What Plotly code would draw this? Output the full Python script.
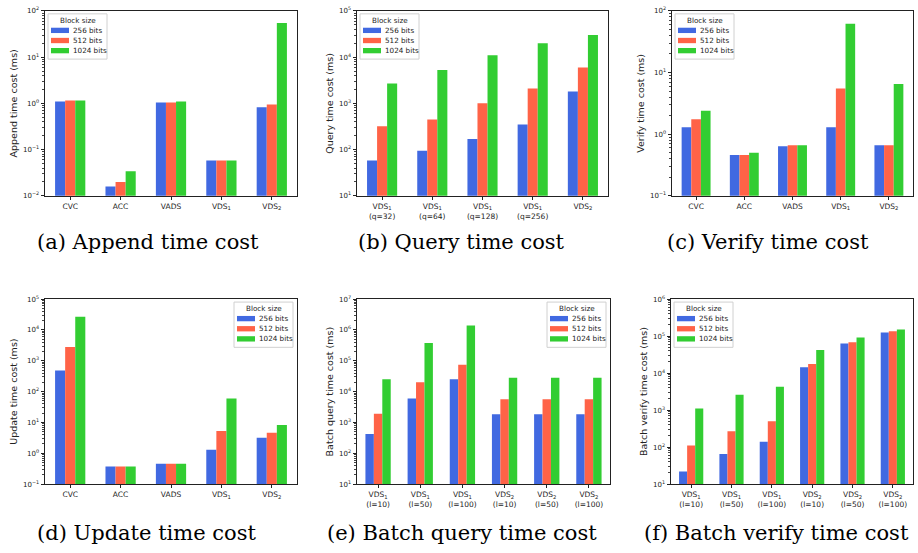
import plotly.graph_objects as go

# ---------------- data ----------------
series_names = ["256 bits", "512 bits", "1024 bits"]
series_colors = ["#4169E1", "#FF6347", "#32CD32"]
legend_title = "Block size"

append_categories = ["CVC", "ACC", "VADS", "VDS<sub>1</sub>", "VDS<sub>2</sub>"]
append_256 = [1.1, 0.016, 1.05, 0.058, 0.82]
append_512 = [1.15, 0.020, 1.05, 0.058, 0.95]
append_1024 = [1.15, 0.034, 1.10, 0.058, 55]

query_categories = ["VDS<sub>1</sub><br>(q=32)", "VDS<sub>1</sub><br>(q=64)",
                    "VDS<sub>1</sub><br>(q=128)", "VDS<sub>1</sub><br>(q=256)",
                    "VDS<sub>2</sub>"]
query_256 = [58, 95, 170, 350, 1800]
query_512 = [320, 450, 1000, 2100, 6000]
query_1024 = [2700, 5300, 11000, 20000, 30000]

verify_categories = ["CVC", "ACC", "VADS", "VDS<sub>1</sub>", "VDS<sub>2</sub>"]
verify_256 = [1.3, 0.46, 0.64, 1.3, 0.66]
verify_512 = [1.75, 0.46, 0.66, 5.5, 0.66]
verify_1024 = [2.4, 0.50, 0.66, 62, 6.5]

update_categories = ["CVC", "ACC", "VADS", "VDS<sub>1</sub>", "VDS<sub>2</sub>"]
update_256 = [480, 0.37, 0.46, 1.3, 3.2]
update_512 = [2800, 0.37, 0.46, 5.3, 4.6]
update_1024 = [27000, 0.37, 0.46, 60, 8.2]

bquery_categories = ["VDS<sub>1</sub><br>(l=10)", "VDS<sub>1</sub><br>(l=50)",
                     "VDS<sub>1</sub><br>(l=100)", "VDS<sub>2</sub><br>(l=10)",
                     "VDS<sub>2</sub><br>(l=50)", "VDS<sub>2</sub><br>(l=100)"]
bquery_256 = [420, 6000, 25000, 1850, 1850, 1850]
bquery_512 = [1900, 20000, 75000, 5600, 5600, 5600]
bquery_1024 = [25000, 380000, 1400000, 28000, 28000, 28000]

bverify_categories = ["VDS<sub>1</sub><br>(l=10)", "VDS<sub>1</sub><br>(l=50)",
                      "VDS<sub>1</sub><br>(l=100)", "VDS<sub>2</sub><br>(l=10)",
                      "VDS<sub>2</sub><br>(l=50)", "VDS<sub>2</sub><br>(l=100)"]
bverify_256 = [22, 65, 140, 14500, 63000, 125000]
bverify_512 = [110, 270, 500, 17500, 68000, 135000]
bverify_1024 = [1100, 2600, 4300, 42000, 92000, 150000]

y_titles = ["Append time cost (ms)", "Query time cost (ms)", "Verify time cost (ms)",
            "Update time cost (ms)", "Batch query time cost (ms)", "Batch verify time cost (ms)"]
y_exponents = [(-2, 2), (1, 5), (-1, 2), (-1, 5), (1, 7), (1, 6)]
captions = ["(a) Append time cost", "(b) Query time cost", "(c) Verify time cost",
            "(d) Update time cost", "(e) Batch query time cost", "(f) Batch verify time cost"]

panels = [
    (append_categories, [append_256, append_512, append_1024]),
    (query_categories, [query_256, query_512, query_1024]),
    (verify_categories, [verify_256, verify_512, verify_1024]),
    (update_categories, [update_256, update_512, update_1024]),
    (bquery_categories, [bquery_256, bquery_512, bquery_1024]),
    (bverify_categories, [bverify_256, bverify_512, bverify_1024]),
]

# ---------------- layout geometry (pixels) ----------------
W, H = 918, 553
# (left, right, top, bottom)
boxes = [(45, 297, 6, 194), (357, 608, 6, 194), (672, 913, 6, 194),
         (45, 297, 299, 487), (357, 610, 299, 487), (671, 913, 299, 487)]
legend_pos = ["left", "left", "left", "right", "right", "left"]
caption_x = [148, 461, 768, 147, 462, 776]
caption_y = [241, 241, 241, 537, 537, 537]
LEG_W, LEG_H = 59, 46


def PX(x):
    return x / W


def PY(y):
    return 1 - y / H


fig = go.Figure()
layout = dict(width=W, height=H, margin=dict(l=0, r=0, t=0, b=0),
              paper_bgcolor="white", plot_bgcolor="white",
              barmode="group", bargap=0.4, bargroupgap=0,
              font=dict(family="DejaVu Sans", color="black"),
              showlegend=False)

annotations = []
shapes = []
for i, (cats, vals) in enumerate(panels):
    n = i + 1
    xa = "x" if n == 1 else f"x{n}"
    ya = "y" if n == 1 else f"y{n}"
    for s in range(3):
        fig.add_trace(go.Bar(x=cats, y=vals[s], name=series_names[s],
                             marker=dict(color=series_colors[s], line=dict(width=0)),
                             xaxis=xa, yaxis=ya, offsetgroup=str(s)))
    l, r, t, b = boxes[i]
    e0, e1 = y_exponents[i]
    major = [10 ** e for e in range(e0, e1 + 1)]
    major_txt = [f"10<sup>{e}</sup>" if e >= 0 else f"10<sup>\u2212{-e}</sup>" for e in range(e0, e1 + 1)]
    minor = [m * 10 ** e for e in range(e0, e1) for m in range(2, 10)]
    xkey = "xaxis" if n == 1 else f"xaxis{n}"
    ykey = "yaxis" if n == 1 else f"yaxis{n}"
    layout[xkey] = dict(domain=[PX(l), PX(r)], anchor=ya, type="category",
                        showline=True, linecolor="#222", linewidth=1, mirror=True,
                        ticks="outside", ticklen=3, tickcolor="#222",
                        tickfont=dict(size=7.5, color="#222"), showgrid=False,
                        zeroline=False)
    layout[ykey] = dict(domain=[PY(b), PY(t)], anchor=xa, type="log",
                        range=[e0, e1], tickmode="array", tickvals=major, ticktext=major_txt,
                        showline=True, linecolor="#222", linewidth=1, mirror=True,
                        ticks="outside", ticklen=3.5, tickcolor="#222",
                        tickfont=dict(size=7, color="#222"), showgrid=False, zeroline=False,
                        minor=dict(tickmode="array", tickvals=minor, ticks="outside",
                                   ticklen=2, tickcolor="#444", showgrid=False),
                        title=dict(text=y_titles[i], font=dict(size=9.5, color="#222"),
                                   standoff=3))
    # legend box (drawn in paper space, matplotlib style)
    if legend_pos[i] == "left":
        bx0 = l + 3
    else:
        bx0 = r - 4 - LEG_W
    by0 = t + 3
    shapes.append(dict(type="rect", xref="paper", yref="paper",
                       x0=PX(bx0), x1=PX(bx0 + LEG_W), y0=PY(by0), y1=PY(by0 + LEG_H),
                       line=dict(color="#d0d0d0", width=1), fillcolor="rgba(255,255,255,0.85)",
                       layer="above"))
    annotations.append(dict(text=legend_title, x=PX(bx0 + LEG_W / 2), y=PY(by0 + 6.5),
                            xref="paper", yref="paper", xanchor="center", yanchor="middle",
                            showarrow=False, font=dict(size=7.2, color="#222")))
    for s in range(3):
        ry = by0 + 16.8 + s * 10.3
        shapes.append(dict(type="rect", xref="paper", yref="paper",
                           x0=PX(bx0 + 3), x1=PX(bx0 + 21), y0=PY(ry - 2.7), y1=PY(ry + 2.7),
                           line=dict(width=0), fillcolor=series_colors[s], layer="above"))
        annotations.append(dict(text=series_names[s], x=PX(bx0 + 23), y=PY(ry),
                                xref="paper", yref="paper", xanchor="left", yanchor="middle",
                                showarrow=False, font=dict(size=7.2, color="#222")))
    annotations.append(dict(text=captions[i], x=PX(caption_x[i]), y=PY(caption_y[i]),
                            xref="paper", yref="paper", xanchor="center", yanchor="middle",
                            showarrow=False,
                            font=dict(family="DejaVu Serif", size=21, color="black")))

layout["annotations"] = annotations
layout["shapes"] = shapes
fig.update_layout(**layout)
fig.write_html("out.html", config={"displayModeBar": False},
               post_script="document.body.style.margin='0';document.body.style.padding='0';")
